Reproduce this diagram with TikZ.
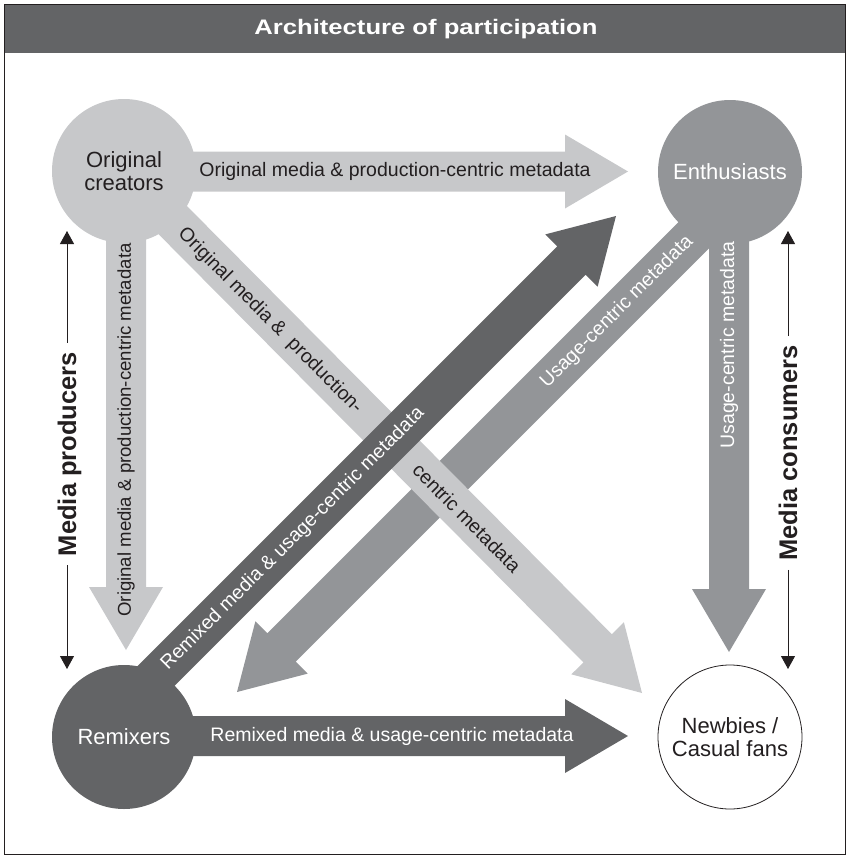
\documentclass[tikz,border=0pt]{standalone}
\usepackage{fontspec}
\setmainfont{Liberation Sans}
\usetikzlibrary{calc,arrows.meta}
\definecolor{lightg}{HTML}{C7C8CA}
\definecolor{midg}{HTML}{939598}
\definecolor{darkg}{HTML}{636466}
\definecolor{inkc}{HTML}{231F20}
% start, tip, colour
\newcommand{\bigarrowshape}[3]{%
  \path ($(#2)!63pt!(#1)$) coordinate (bb);
  \fill[#3] ($(#1)!20pt!90:(#2)$) -- ($(bb)!20pt!90:(#2)$) -- ($(bb)!37pt!90:(#2)$) -- (#2)
    -- ($(bb)!37pt!-90:(#2)$) -- ($(bb)!20pt!-90:(#2)$) -- ($(#1)!20pt!-90:(#2)$) -- cycle;
}
\tikzset{
  blob/.style={circle, minimum size=144pt, inner sep=0pt, align=center,
    font=\fontsize{22}{23}\selectfont},
  bandtext/.style={inner sep=0pt, font=\fontsize{19.5}{20}\selectfont},
  sidelabel/.style={inner sep=0pt, rotate=90, anchor=base, text=inkc,
    font=\fontsize{25.5}{26}\selectfont\bfseries},
  sidearrow/.style={draw=inkc, line width=0.9pt, -{Triangle[width=14pt,length=13pt]}, shorten <=9pt}
}
\begin{document}
\begin{tikzpicture}[x=1pt,y=-1pt]
\useasboundingbox (0,0) rectangle (848,857);
% frame and title
\fill[darkg] (4,4) rectangle (845,53);
\draw[inkc, line width=1pt] (4,4) rectangle (845,854);
\node[text=white, font=\fontsize{21}{22}\selectfont\bfseries] (title) at (426,29) {\scalebox{1.22}[1]{Architecture of participation}};

% circle centres
\coordinate (cOC) at (124,171);
\coordinate (cEN) at (730,172);
\coordinate (cRE) at (124,737);
\coordinate (cNB) at (730,737);

% band start / tip points
\coordinate (sRV) at (729,172);   \coordinate (tRV) at (729,652);
\coordinate (sMD) at (740,189);   \coordinate (tMD) at (237,692);
\coordinate (sTH) at (124,171.5); \coordinate (tTH) at (628,171.5);
\coordinate (sLV) at (126,171);   \coordinate (tLV) at (126,650);
\coordinate (sLD) at (124,171);   \coordinate (tLD) at (642,693);
\coordinate (sDD) at (110,722);   \coordinate (tDD) at (616,216);
\coordinate (sBH) at (124,736);   \coordinate (tBH) at (628,736);

% mid grey bands (bottom layer)
\bigarrowshape{sRV}{tRV}{midg}
\bigarrowshape{sMD}{tMD}{midg}
\node[bandtext, text=white, rotate=45] (tx2) at (617,312) {Usage-centric metadata};

% light grey bands
\bigarrowshape{sTH}{tTH}{lightg}
\bigarrowshape{sLV}{tLV}{lightg}
\bigarrowshape{sLD}{tLD}{lightg}
\node[bandtext, text=inkc, rotate=-45.2] (tx5) at (270,321) {Original media \&\ \ production-};
\node[bandtext, text=inkc, rotate=-45.2] (tx6) at (467,518) {centric metadata};

% dark grey bands (top layer)
\bigarrowshape{sDD}{tDD}{darkg}
\node[bandtext, text=white, rotate=45] (tx7) at (293,539) {Remixed media \& usage-centric metadata};
\bigarrowshape{sBH}{tBH}{darkg}

% circles
\node[blob, fill=lightg, text=inkc] (oc) at (cOC) {Original\\creators};
\node[blob, fill=midg, text=white] (en) at (cEN) {Enthusiasts};
\node[blob, fill=darkg, text=white] (re) at (cRE) {Remixers};
\node[blob, fill=white, draw=inkc, line width=0.8pt, text=inkc] (nb) at (cNB) {Newbies /\\Casual fans};

% texts on the straight bands
\node[bandtext, text=white, rotate=90] (tx1) at (729,345) {Usage-centric metadata};
\node[bandtext, text=inkc] (tx3) at (395,171) {Original media \& production-centric metadata};
\node[bandtext, text=inkc, rotate=90, font=\fontsize{18.6}{19}\selectfont] (tx4) at (126,430) {Original media \& production-centric metadata};
\node[bandtext, text=white] (tx8) at (392,736) {Remixed media \& usage-centric metadata};

% side labels
\node[sidelabel] (mp) at (76,454) {Media producers};
\coordinate (mpT) at (67,231);
\coordinate (mpB) at (67,669);
\draw[sidearrow] (mpT |- mp.east) -- (mpT);
\draw[sidearrow] (mpB |- mp.west) -- (mpB);

\node[sidelabel] (mc) at (797,453) {Media consumers};
\coordinate (mcT) at (788,231);
\coordinate (mcB) at (788,669);
\draw[sidearrow] (mcT |- mc.east) -- (mcT);
\draw[sidearrow] (mcB |- mc.west) -- (mcB);
\end{tikzpicture}
\end{document}
